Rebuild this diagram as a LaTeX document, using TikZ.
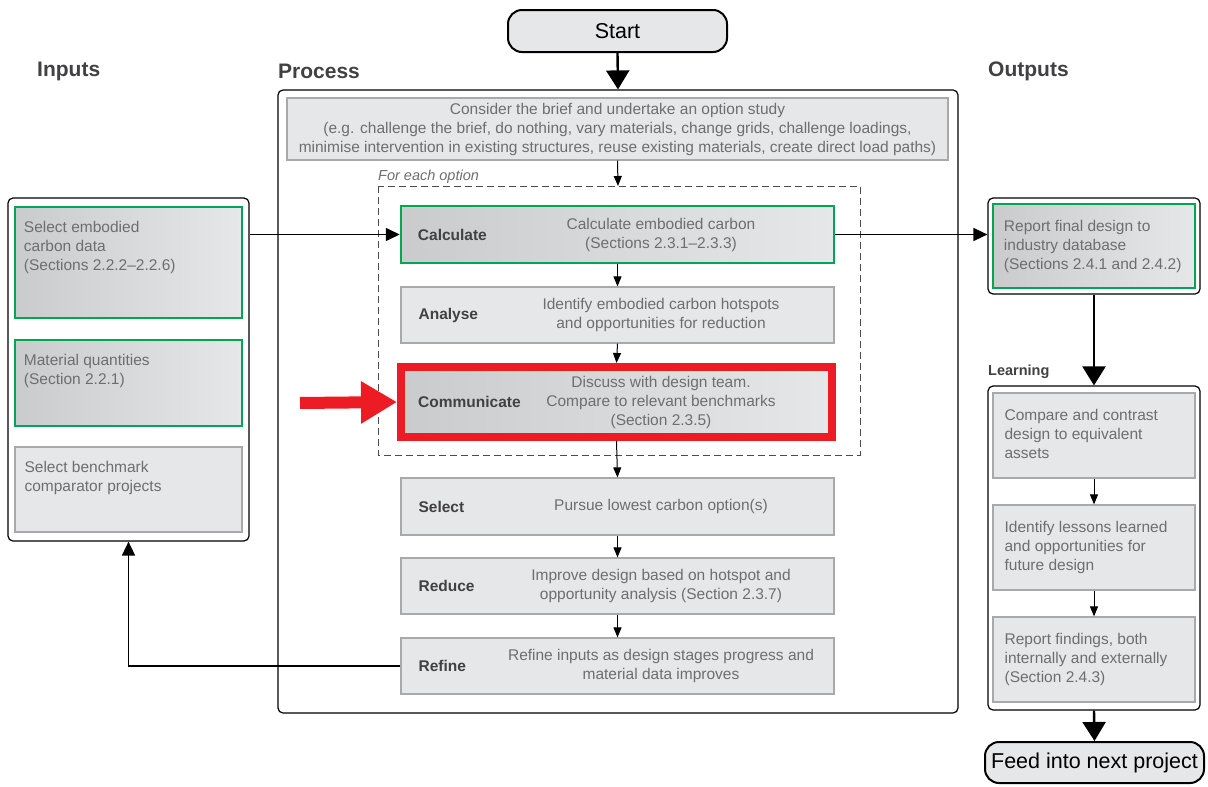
\documentclass[tikz,border=0pt]{standalone}
\usepackage{fontspec}
\setmainfont{Liberation Sans}
\usetikzlibrary{arrows.meta,positioning}

\definecolor{boxfill}{HTML}{E6E7E8}
\definecolor{boxshade}{HTML}{CACBCD}
\definecolor{boxline}{HTML}{A7A9AC}
\definecolor{okgreen}{HTML}{00A651}
\definecolor{alertred}{HTML}{ED1C24}
\definecolor{bodytext}{HTML}{6D6E71}
\definecolor{tagtext}{HTML}{414042}

\tikzset{
  every node/.style={font=\fontsize{15.5}{19}\selectfont, text=bodytext, inner sep=0pt},
  panel/.style={draw=black, line width=1.2pt, rounded corners=5pt, fill=white},
  stepbox/.style={draw=boxline, fill=boxfill, line width=1.2pt},
  shadebox/.style={draw=boxline, line width=1.2pt, left color=boxshade, right color=boxfill},
  greenbox/.style={shadebox, draw=okgreen, line width=2.5pt},
  redbox/.style={shadebox, draw=alertred, line width=8pt},
  terminal/.style={draw=black, line width=2pt, fill=boxfill, rounded corners=14pt,
    font=\fontsize{21.5}{25}\selectfont, text=black},
  tag/.style={font=\fontsize{15.5}{19}\bfseries\selectfont, text=tagtext, anchor=west},
  body/.style={align=center},
  note/.style={align=left, anchor=north west},
  heading/.style={font=\fontsize{21}{25}\bfseries\selectfont, text=tagtext, anchor=west},
  flow/.style={-{Triangle[length=10pt,width=8pt]}, line width=1pt, black},
  feed/.style={-{Triangle[length=14pt,width=13pt]}, line width=1.6pt, black},
  bigflow/.style={-{Triangle[length=19pt,width=23pt]}, line width=2.4pt, black},
  pointer/.style={-{Triangle[length=36pt,width=40pt]}, line width=12pt, alertred},
}

\begin{document}
\begin{tikzpicture}[x=1pt,y=-1pt]
   \useasboundingbox (0,0) rectangle (1208,787);

   % headings
   \node[heading] (hin) at (37,71) {Inputs};
   \node[heading] (hproc) at (278,71) {Process};
   \node[heading] (hout) at (988,71) {Outputs};

   % process
   \node[terminal, minimum width=219pt, minimum height=42pt] (start) at (617.5,31) {Start};
   \node[panel, minimum width=680pt, minimum height=623pt] (process) at (618,401.5) {};
   \node[stepbox, minimum width=661pt, minimum height=62pt, body] (brief) at (617.5,129)
     {Consider the brief and undertake an option study\\
      (e.g. challenge the brief, do nothing, vary materials, change grids, challenge loadings,\\
      minimise intervention in existing structures, reuse existing materials, create direct load paths)};
   \draw[dashed, line width=1pt, black!70, dash pattern=on 7pt off 4pt] (378,186) rectangle (860,455);
   \coordinate (opttop) at (618,186);
   \node[anchor=west, font=\fontsize{14.5}{17}\itshape\selectfont] (optlabel) at (378,177) {For each option};

   \node[greenbox, minimum width=433pt, minimum height=57pt] (calc) at (617.5,234.5) {};
   \node[tag] at ([xshift=18pt]calc.west) {Calculate};
   \node[body] at (661,234.5) {Calculate embodied carbon\\(Sections 2.3.1–2.3.3)};

   \node[stepbox, minimum width=433pt, minimum height=56pt] (analyse) at (617.5,315) {};
   \node[tag] at ([xshift=18pt]analyse.west) {Analyse};
   \node[body] at (661,315) {Identify embodied carbon hotspots\\and opportunities for reduction};

   \node[redbox, minimum width=431pt, minimum height=70pt] (comm) at (616.5,402) {};
   \node[tag] at ([xshift=21pt]comm.west) {Communicate};
   \node[body] at (661,402) {Discuss with design team.\\Compare to relevant benchmarks\\(Section 2.3.5)};

   \node[stepbox, minimum width=433pt, minimum height=57pt] (select) at (617.5,506.5) {};
   \node[tag] at ([xshift=18pt]select.west) {Select};
   \node[body] at (661,506.5) {Pursue lowest carbon option(s)};

   \node[stepbox, minimum width=433pt, minimum height=56pt] (reduce) at (617.5,586) {};
   \node[tag] at ([xshift=18pt]reduce.west) {Reduce};
   \node[body] at (661,586) {Improve design based on hotspot and\\opportunity analysis (Section 2.3.7)};

   \node[stepbox, minimum width=433pt, minimum height=56pt] (refine) at (617.5,666) {};
   \node[tag] at ([xshift=18pt]refine.west) {Refine};
   \node[body] at (661,666) {Refine inputs as design stages progress and\\material data improves};

   % inputs
   \node[panel, minimum width=241pt, minimum height=343pt] (inputs) at (128.5,369.5) {};
   \node[greenbox, minimum width=227pt, minimum height=111pt] (carbon) at (128.5,262.5) {};
   \node[note] at ([xshift=10pt,yshift=-15pt]carbon.north west)
     {Select embodied\\carbon data\\(Sections 2.2.2–2.2.6)};
   \node[greenbox, minimum width=227pt, minimum height=86pt] (quant) at (128.5,383) {};
   \node[note] at ([xshift=10pt,yshift=-15pt]quant.north west)
     {Material quantities\\(Section 2.2.1)};
   \node[stepbox, minimum width=227pt, minimum height=85pt] (bench) at (128.5,489.5) {};
   \node[note] at ([xshift=10pt,yshift=-15pt]bench.north west)
     {Select benchmark\\comparator projects};

   % outputs
   \node[panel, minimum width=212pt, minimum height=96pt] (outpanel) at (1094,246) {};
   \node[greenbox, minimum width=202pt, minimum height=84pt] (report) at (1094,246) {};
   \node[note] at ([xshift=12pt,yshift=-17pt]report.north west)
     {Report final design to\\industry database\\(Sections 2.4.1 and 2.4.2)};

   \node[anchor=west, font=\fontsize{14.5}{17}\bfseries\selectfont, text=tagtext] (hlearn) at (988,372) {Learning};
   \node[panel, minimum width=212pt, minimum height=324pt] (learn) at (1094,548) {};
   \node[stepbox, minimum width=202pt, minimum height=85pt] (compare) at (1094,435.5) {};
   \node[note] at ([xshift=12pt,yshift=-17pt]compare.north west)
     {Compare and contrast\\design to equivalent\\assets};
   \node[stepbox, minimum width=202pt, minimum height=85pt] (lessons) at (1094,547.5) {};
   \node[note] at ([xshift=12pt,yshift=-17pt]lessons.north west)
     {Identify lessons learned\\and opportunities for\\future design};
   \node[stepbox, minimum width=202pt, minimum height=85pt] (findings) at (1094,659.5) {};
   \node[note] at ([xshift=12pt,yshift=-17pt]findings.north west)
     {Report findings, both\\internally and externally\\(Section 2.4.3)};
   \node[terminal, minimum width=219pt, minimum height=41pt] (next) at (1094.5,762.5) {Feed into next project};

   % connectors
   \draw[bigflow] (start.south) -- (process.north);
   \draw[flow] (brief.south) -- (opttop);
   \draw[flow] (calc.south) -- (analyse.north);
   \draw[flow] (analyse.south) -- (comm.north);
   \draw[flow] (comm.south) -- (select.north);
   \draw[flow] (select.south) -- (reduce.north);
   \draw[flow] (reduce.south) -- (refine.north);
   \draw[feed] (inputs.east |- calc.west) -- (calc.west);
   \draw[feed] (calc.east) -- (outpanel.west |- calc.east);
   \draw[feed] (refine.west) -| (inputs.south);
   \draw[bigflow] (outpanel.south) -- (learn.north);
   \draw[flow] (compare.south) -- (lessons.north);
   \draw[flow] (lessons.south) -- (findings.north);
   \draw[bigflow] (learn.south) -- (next.north);

   \coordinate (ptr) at (300,403);
   \draw[pointer] (ptr) -- (comm.west);
\end{tikzpicture}
\end{document}
